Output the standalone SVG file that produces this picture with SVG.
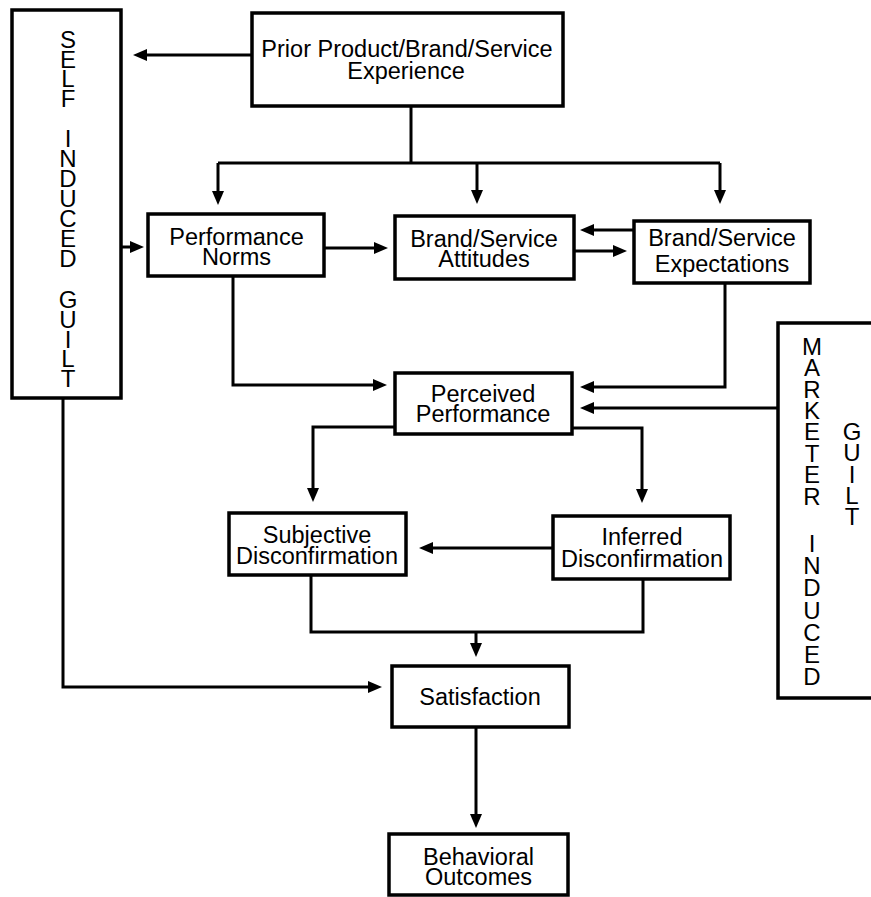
<svg xmlns="http://www.w3.org/2000/svg" width="871" height="897" viewBox="0 0 871 897">
<style>
.box{fill:#fff;stroke:#000;stroke-width:3.5;}
.ln{fill:none;stroke:#000;stroke-width:3;stroke-linejoin:miter;}
.t{font-family:"Liberation Sans",Arial,sans-serif;font-size:23.5px;text-anchor:middle;fill:#000;}
.v{font-family:"Liberation Sans",Arial,sans-serif;font-size:24px;text-anchor:middle;fill:#000;}
</style>
<defs>
<marker id="ah" viewBox="0 0 14 12" refX="6" refY="6" markerWidth="14" markerHeight="12" markerUnits="userSpaceOnUse" orient="auto">
<path d="M0,0 L14,6 L0,12 z" fill="#000"/>
</marker>
</defs>
<rect width="871" height="897" fill="#fff"/>

<g id="connectors">
<path class="ln" d="M252,55 H141" marker-end="url(#ah)"/>
<path class="ln" d="M411,106 V163"/>
<path class="ln" d="M218,163 H720"/>
<path class="ln" d="M218,163 V197" marker-end="url(#ah)"/>
<path class="ln" d="M477,163 V196" marker-end="url(#ah)"/>
<path class="ln" d="M720,163 V196" marker-end="url(#ah)"/>
<path class="ln" d="M122,247 H136" marker-end="url(#ah)"/>
<path class="ln" d="M324,248 H380" marker-end="url(#ah)"/>
<path class="ln" d="M634,230 H588" marker-end="url(#ah)"/>
<path class="ln" d="M574,251 H619" marker-end="url(#ah)"/>
<path class="ln" d="M233,276 V385 H379" marker-end="url(#ah)"/>
<path class="ln" d="M725,283 V387 H588" marker-end="url(#ah)"/>
<path class="ln" d="M778,408 H588" marker-end="url(#ah)"/>
<path class="ln" d="M395,427 H313 V494" marker-end="url(#ah)"/>
<path class="ln" d="M572,428 H642 V495" marker-end="url(#ah)"/>
<path class="ln" d="M553,548 H427" marker-end="url(#ah)"/>
<path class="ln" d="M311,575 V632 H643 V579"/>
<path class="ln" d="M476,632 V649" marker-end="url(#ah)"/>
<path class="ln" d="M63,398 V687 H374" marker-end="url(#ah)"/>
<path class="ln" d="M476,727 V820" marker-end="url(#ah)"/>
</g>

<g id="self-induced-guilt">
<rect class="box" x="12" y="10" width="109" height="388"/>
<text class="v"><tspan x="68" y="48">S</tspan><tspan x="68" y="68">E</tspan><tspan x="68" y="87">L</tspan><tspan x="68" y="107">F</tspan><tspan x="68" y="147">I</tspan><tspan x="68" y="167">N</tspan><tspan x="68" y="187">D</tspan><tspan x="68" y="207">U</tspan><tspan x="68" y="227">C</tspan><tspan x="68" y="247">E</tspan><tspan x="68" y="267">D</tspan><tspan x="68" y="308">G</tspan><tspan x="68" y="328">U</tspan><tspan x="68" y="348">I</tspan><tspan x="68" y="367">L</tspan><tspan x="68" y="387">T</tspan></text>
</g>

<g id="prior-experience">
<rect class="box" x="252" y="13" width="311" height="93"/>
<text class="t" x="407" y="57">Prior Product/Brand/Service</text>
<text class="t" x="406" y="79">Experience</text>
</g>

<g id="performance-norms">
<rect class="box" x="148" y="214" width="176" height="62"/>
<text class="t" x="236.5" y="245">Performance</text>
<text class="t" x="236.5" y="265">Norms</text>
</g>

<g id="brand-service-attitudes">
<rect class="box" x="395" y="216" width="179" height="63"/>
<text class="t" x="484" y="247">Brand/Service</text>
<text class="t" x="484" y="267">Attitudes</text>
</g>

<g id="brand-service-expectations">
<rect class="box" x="634" y="221" width="176" height="62"/>
<text class="t" x="722" y="246">Brand/Service</text>
<text class="t" x="722" y="272">Expectations</text>
</g>

<g id="perceived-performance">
<rect class="box" x="395" y="373" width="177" height="61"/>
<text class="t" x="483" y="402">Perceived</text>
<text class="t" x="483" y="422">Performance</text>
</g>

<g id="marketer-induced-guilt">
<path class="box" d="M875,323 H778 V698 H875"/>
<text class="v"><tspan x="812" y="355">M</tspan><tspan x="812" y="376">A</tspan><tspan x="812" y="398">R</tspan><tspan x="812" y="419">K</tspan><tspan x="812" y="440">E</tspan><tspan x="812" y="462">T</tspan><tspan x="812" y="483">E</tspan><tspan x="812" y="505">R</tspan><tspan x="812" y="552">I</tspan><tspan x="812" y="574">N</tspan><tspan x="812" y="596">D</tspan><tspan x="812" y="619">U</tspan><tspan x="812" y="641">C</tspan><tspan x="812" y="663">E</tspan><tspan x="812" y="685">D</tspan></text>
<text class="v"><tspan x="852" y="440">G</tspan><tspan x="852" y="461">U</tspan><tspan x="852" y="483">I</tspan><tspan x="852" y="504">L</tspan><tspan x="852" y="525">T</tspan></text>
</g>

<g id="subjective-disconfirmation">
<rect class="box" x="229" y="513" width="177" height="62"/>
<text class="t" x="317" y="543">Subjective</text>
<text class="t" x="317" y="564">Disconfirmation</text>
</g>

<g id="inferred-disconfirmation">
<rect class="box" x="553" y="516" width="177" height="63"/>
<text class="t" x="642" y="545">Inferred</text>
<text class="t" x="642" y="567">Disconfirmation</text>
</g>

<g id="satisfaction">
<rect class="box" x="392" y="666" width="177" height="61"/>
<text class="t" x="480" y="705">Satisfaction</text>
</g>

<g id="behavioral-outcomes">
<rect class="box" x="389" y="834" width="179" height="61"/>
<text class="t" x="478.5" y="865">Behavioral</text>
<text class="t" x="478.5" y="885">Outcomes</text>
</g>
</svg>
